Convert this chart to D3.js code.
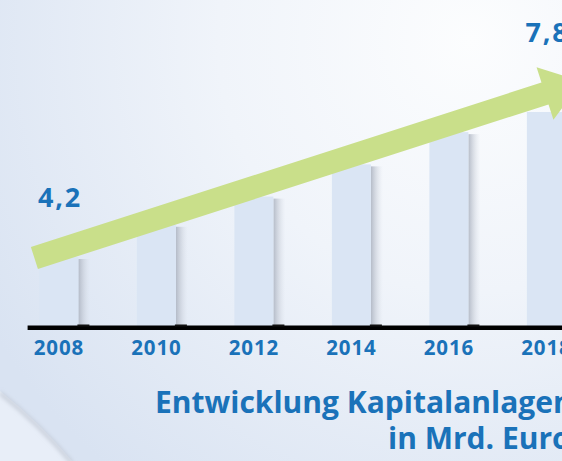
<!DOCTYPE html>
<html>
<head>
<meta charset="utf-8">
<script src="https://cdn.jsdelivr.net/npm/d3@7"></script>
<style>
  body { margin: 0; background: #fff; }
  svg { display: block; }
</style>
</head>
<body>
<svg id="chart"></svg>
<script>
// data
const years = ["2008", "2010", "2012", "2014", "2016", "2018"];
const values = [4.2, 5.0, 5.7, 6.5, 7.3, 7.8];
const labelYears = ["2008", "2018"];
const labelTexts = ["4,2", "7,8"];
const titleLines = ["Entwicklung Kapitalanlagen", "in Mrd. Euro"];

const W = 562, H = 461;
const blue = "#1a72b9";
const font = "'Open Sans', 'Noto Sans', sans-serif";

const svg = d3.select("#chart")
    .attr("width", W)
    .attr("height", H);

const defs = svg.append("defs");

// background gradient
const bg = defs.append("radialGradient")
    .attr("id", "bg")
    .attr("gradientUnits", "userSpaceOnUse")
    .attr("cx", 470).attr("cy", 40).attr("r", 560);
bg.append("stop").attr("offset", "0%").attr("stop-color", "#fcfdfe");
bg.append("stop").attr("offset", "45%").attr("stop-color", "#f0f4fa");
bg.append("stop").attr("offset", "100%").attr("stop-color", "#d9e3f2");

// shadow on the right of every bar
const sh = defs.append("linearGradient").attr("id", "shadow");
sh.append("stop").attr("offset", "0%").attr("stop-color", "#aeb5c2").attr("stop-opacity", 0.9);
sh.append("stop").attr("offset", "100%").attr("stop-color", "#d8dde6").attr("stop-opacity", 0);

defs.append("filter").attr("id", "blur")
    .append("feGaussianBlur").attr("stdDeviation", 2);

svg.append("rect")
    .attr("width", W).attr("height", H)
    .attr("fill", "url(#bg)");

// curled corner bottom left
svg.append("path")
    .attr("d", "M0,391 Q38,421 72,461 L0,461 Z")
    .attr("fill", "#e8eef8");
svg.append("path")
    .attr("d", "M0,391 Q38,421 72,461")
    .attr("fill", "none")
    .attr("stroke", "#bfc6d2")
    .attr("stroke-width", 3)
    .attr("transform", "translate(0,2)")
    .attr("filter", "url(#blur)");

// scales
const x = d3.scaleBand()
    .domain(years)
    .range([39.4, 565.9])
    .paddingInner(0.6)
    .paddingOuter(0);

const baseY = 326;
const y = d3.scaleLinear()
    .domain([2.487, 7.8])
    .range([baseY, 112]);

const data = years.map((yr, i) => ({ year: yr, value: values[i] }));

// bar shadows
svg.append("g")
  .selectAll("rect")
  .data(data)
  .join("rect")
    .attr("x", d => x(d.year) + x.bandwidth())
    .attr("y", d => y(d.value) + 2)
    .attr("width", 12)
    .attr("height", d => baseY - y(d.value) - 2)
    .attr("fill", "url(#shadow)");

// bars
svg.append("g")
  .selectAll("rect")
  .data(data)
  .join("rect")
    .attr("x", d => x(d.year))
    .attr("y", d => y(d.value))
    .attr("width", x.bandwidth())
    .attr("height", d => baseY - y(d.value))
    .attr("fill", "#dae5f4");

// x axis: thick black base line, blue year labels
const axis = svg.append("g")
    .attr("transform", "translate(0," + baseY + ")")
    .call(d3.axisBottom(x).tickSize(0).tickPadding(14));
axis.select(".domain")
    .attr("d", "M27.6,1.8H" + W)
    .attr("stroke", "#000")
    .attr("stroke-width", 4.5);
axis.selectAll(".tick text")
    .attr("fill", blue)
    .attr("font-family", font)
    .attr("font-weight", 700)
    .attr("font-size", 20.5)
    .attr("letter-spacing", 0.8);

// small dark bumps at the foot of each bar
svg.append("g")
  .selectAll("rect")
  .data(data)
  .join("rect")
    .attr("x", d => x(d.year) + x.bandwidth() - 1)
    .attr("y", baseY - 1.5)
    .attr("width", 12)
    .attr("height", 2)
    .attr("fill", "#111");

// trend arrow from first to last value
const ax0 = x(years[0]) - 5, ay0 = y(values[0]) + 1;
const ax1 = x(years[5]) + x.bandwidth() / 2 - 1.4, ay1 = y(values[5]) - 18.5;
const len = Math.hypot(ax1 - ax0, ay1 - ay0);
const dx = (ax1 - ax0) / len, dy = (ay1 - ay0) / len;
const nx = -dy, ny = dx;
const shaft = 11.5, head = 27.5, headLen = 39;
const pts = [
  [ax0 - shaft * nx, ay0 - shaft * ny],
  [ax1 - shaft * nx, ay1 - shaft * ny],
  [ax1 - head * nx, ay1 - head * ny],
  [ax1 + headLen * dx, ay1 + headLen * dy],
  [ax1 + head * nx, ay1 + head * ny],
  [ax1 + shaft * nx, ay1 + shaft * ny],
  [ax0 + shaft * nx, ay0 + shaft * ny]
];
svg.append("path")
    .attr("d", d3.line()(pts) + "Z")
    .attr("fill", "#c9df8a");

// value labels
const labelLift = [50, 70];
svg.append("g")
  .selectAll("text")
  .data(labelYears)
  .join("text")
    .attr("x", d => x(d) + x.bandwidth() / 2 + 1)
    .attr("y", (d, i) => y(values[years.indexOf(d)]) - labelLift[i])
    .attr("text-anchor", "middle")
    .attr("fill", blue)
    .attr("font-family", font)
    .attr("font-weight", 700)
    .attr("font-size", 27)
    .attr("letter-spacing", 1.8)
    .text((d, i) => labelTexts[i]);

// title
svg.append("text")
    .attr("x", 155).attr("y", 413)
    .attr("fill", blue)
    .attr("font-family", font)
    .attr("font-weight", 700)
    .attr("font-size", 30)
    .text(titleLines[0]);
svg.append("text")
    .attr("x", 388).attr("y", 448.5)
    .attr("fill", blue)
    .attr("font-family", font)
    .attr("font-weight", 700)
    .attr("font-size", 30)
    .text(titleLines[1]);
</script>
</body>
</html>
